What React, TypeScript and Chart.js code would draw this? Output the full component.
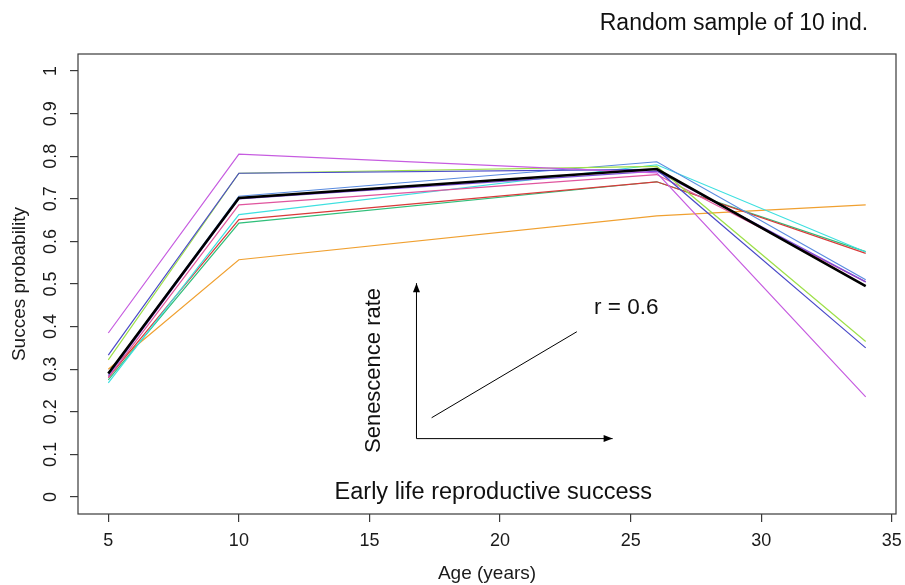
import React, { useEffect, useRef } from "react";
import { Chart, registerables } from "chart.js";

Chart.register(...registerables);

// ---- data ----
const ages = [5, 10, 26, 34];
const xTickValues = [5, 10, 15, 20, 25, 30, 35];
const yTickValues = [0, 0.1, 0.2, 0.3, 0.4, 0.5, 0.6, 0.7, 0.8, 0.9, 1];
const yTickLabels = ["0", "0.1", "0.2", "0.3", "0.4", "0.5", "0.6", "0.7", "0.8", "0.9", "1"];

const meanCurve = [0.29, 0.702, 0.77, 0.495];
const indMagenta = [0.385, 0.805, 0.761, 0.235];
const indDarkBlue = [0.333, 0.76, 0.769, 0.35];
const indYellowGreen = [0.322, 0.76, 0.776, 0.365];
const indSteelBlue = [0.29, 0.706, 0.787, 0.51];
const indPurple = [0.285, 0.7, 0.765, 0.505];
const indPink = [0.28, 0.686, 0.757, 0.505];
const indCyan = [0.268, 0.663, 0.78, 0.575];
const indRed = [0.28, 0.651, 0.74, 0.572];
const indTeal = [0.275, 0.643, 0.74, 0.576];
const indOrange = [0.3, 0.557, 0.66, 0.686];

const seriesList = [
  { name: "mean", values: meanCurve, color: "#000000", width: 2.6 },
  { name: "ind1", values: indMagenta, color: "#c65ce0", width: 1.2 },
  { name: "ind2", values: indDarkBlue, color: "#4a4ac8", width: 1.2 },
  { name: "ind3", values: indYellowGreen, color: "#9ee04a", width: 1.2 },
  { name: "ind4", values: indSteelBlue, color: "#5a8ce0", width: 1.2 },
  { name: "ind5", values: indPurple, color: "#7d4fd8", width: 1.2 },
  { name: "ind6", values: indPink, color: "#e0559e", width: 1.2 },
  { name: "ind7", values: indCyan, color: "#3ee0e0", width: 1.2 },
  { name: "ind8", values: indRed, color: "#d93a3a", width: 1.2 },
  { name: "ind9", values: indTeal, color: "#2fbf7a", width: 1.2 },
  { name: "ind10", values: indOrange, color: "#f0a030", width: 1.2 },
];

const FONT = "'Liberation Sans', Arial, sans-serif";
const AXIS_COLOR = "#3a3a3a";

const annotationPlugin = {
  id: "annotations",
  afterDraw(chart: any) {
    const { ctx, chartArea, scales } = chart;
    const xs = scales.x;
    const ys = scales.y;
    const px = (v: number) => xs.getPixelForValue(v);
    const py = (v: number) => ys.getPixelForValue(v);
    ctx.save();
    // plot box
    ctx.strokeStyle = AXIS_COLOR;
    ctx.lineWidth = 1.2;
    ctx.strokeRect(chartArea.left, chartArea.top, chartArea.right - chartArea.left, chartArea.bottom - chartArea.top);

    // schematic inset
    ctx.strokeStyle = "#000";
    ctx.fillStyle = "#000";
    ctx.lineWidth = 1;
    const arrow = (x0: number, y0: number, x1: number, y1: number) => {
      ctx.beginPath();
      ctx.moveTo(x0, y0);
      ctx.lineTo(x1, y1);
      ctx.stroke();
      const ang = Math.atan2(y1 - y0, x1 - x0);
      const L = 9;
      const W = 3.5;
      ctx.beginPath();
      ctx.moveTo(x1, y1);
      ctx.lineTo(x1 - L * Math.cos(ang) + W * Math.sin(ang), y1 - L * Math.sin(ang) - W * Math.cos(ang));
      ctx.lineTo(x1 - L * Math.cos(ang) - W * Math.sin(ang), y1 - L * Math.sin(ang) + W * Math.cos(ang));
      ctx.closePath();
      ctx.fill();
    };
    const ox = px(16.8);
    const oy = py(0.137);
    arrow(ox, oy, ox, py(0.502));
    arrow(ox, oy, px(24.31), oy);
    ctx.beginPath();
    ctx.moveTo(px(17.38), py(0.186));
    ctx.lineTo(px(22.94), py(0.388));
    ctx.stroke();

    ctx.fillStyle = "#111";
    ctx.textBaseline = "middle";
    ctx.textAlign = "left";
    ctx.font = `22.5px ${FONT}`;
    ctx.fillText("r = 0.6", px(23.6), py(0.444));
    ctx.textAlign = "center";
    ctx.font = `23.5px ${FONT}`;
    ctx.fillText("Early life reproductive success", px(19.74), py(0.01));
    ctx.font = `22px ${FONT}`;
    ctx.save();
    ctx.translate(px(15.18), py(0.297));
    ctx.rotate(-Math.PI / 2);
    ctx.fillText("Senescence rate", 0, 0);
    ctx.restore();

    // top title
    ctx.font = `23px ${FONT}`;
    ctx.fillText("Random sample of 10 ind.", chartArea.right - 162, 24);
    ctx.restore();
  },
};

export default function App() {
  const ref = useRef<HTMLCanvasElement | null>(null);
  useEffect(() => {
    if (!ref.current) return;
    const datasets = seriesList.map((s, i) => ({
      label: s.name,
      data: ages.map((a, k) => ({ x: a, y: s.values[k] })),
      borderColor: s.color,
      backgroundColor: s.color,
      borderWidth: s.width,
      pointRadius: 0,
      tension: 0,
      fill: false,
      order: i,
    }));
    const chart = new Chart(ref.current, {
      type: "line",
      data: { datasets },
      plugins: [annotationPlugin],
      options: {
        animation: false,
        responsive: false,
        devicePixelRatio: 1,
        layout: { padding: { top: 54, right: 9, left: 0, bottom: 0 } },
        plugins: { legend: { display: false }, tooltip: { enabled: false }, title: { display: false } },
        scales: {
          x: {
            type: "linear",
            min: 3.84,
            max: 35.16,
            afterBuildTicks: (scale: any) => {
              scale.ticks = xTickValues.map((v) => ({ value: v }));
            },
            afterFit: (scale: any) => {
              scale.height = 71;
              scale.paddingLeft = 0;
              scale.paddingRight = 0;
            },
            grid: { drawOnChartArea: false, tickLength: 8, color: AXIS_COLOR, lineWidth: 1.2 },
            border: { display: false },
            ticks: {
              autoSkip: false,
              maxRotation: 0,
              minRotation: 0,
              padding: 8,
              color: "#1a1a1a",
              font: { family: FONT, size: 18 },
              callback: (v: any) => String(v),
            },
            title: {
              display: true,
              text: "Age (years)",
              color: "#1a1a1a",
              font: { family: FONT, size: 19, lineHeight: 1 },
              padding: { top: 0, bottom: 2 },
            },
          },
          y: {
            type: "linear",
            min: -0.04,
            max: 1.04,
            afterBuildTicks: (scale: any) => {
              scale.ticks = yTickValues.map((v) => ({ value: v }));
            },
            afterFit: (scale: any) => {
              scale.width = 78;
              scale.paddingTop = 0;
              scale.paddingBottom = 0;
            },
            grid: { drawOnChartArea: false, tickLength: 8, color: AXIS_COLOR, lineWidth: 1.2 },
            border: { display: false },
            ticks: {
              autoSkip: false,
              minRotation: 90,
              maxRotation: 90,
              crossAlign: "center",
              padding: 6,
              color: "#1a1a1a",
              font: { family: FONT, size: 18 },
              callback: (_v: any, i: number) => yTickLabels[i],
            },
            title: {
              display: true,
              text: "Succes probability",
              color: "#1a1a1a",
              font: { family: FONT, size: 19, lineHeight: 1 },
              padding: { top: 10, bottom: 0 },
            },
          },
        },
      } as any,
    });
    return () => chart.destroy();
  }, []);
  return (
    <div style={{ position: "fixed", left: 0, top: 0, width: 905, height: 585, background: "#fff" }}>
      <canvas ref={ref} width={905} height={585} style={{ width: 905, height: 585, display: "block" }} />
    </div>
  );
}
